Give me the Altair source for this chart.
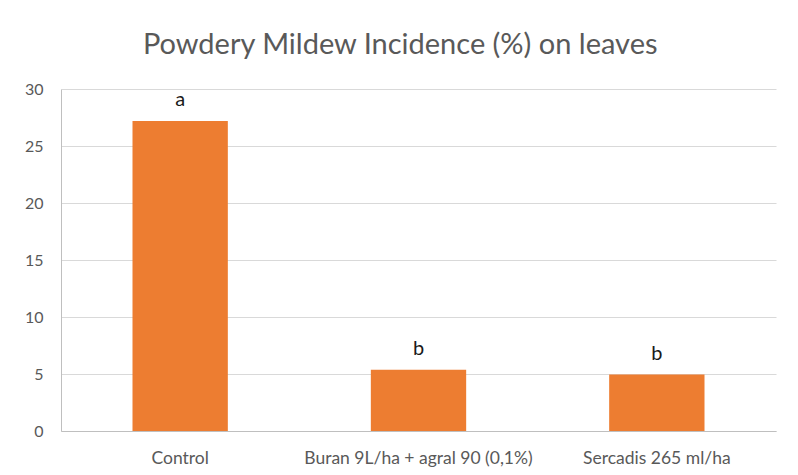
import altair as alt
import pandas as pd

treatments = ["Control", "Buran 9L/ha + agral 90 (0,1%)", "Sercadis 265 ml/ha"]
incidence = [27.2, 5.37, 4.95]
letters = ["a", "b", "b"]

df = pd.DataFrame({"treatment": treatments, "incidence": incidence, "letter": letters})

FONT = "Lato"
GREY = "#595959"

x = alt.X("treatment:N", sort=treatments, title=None,
          scale=alt.Scale(paddingInner=0.6, paddingOuter=0.3),
          axis=alt.Axis(labelAngle=0, labelFontSize=17.5, labelColor=GREY, labelFont=FONT,
                        labelPadding=18, labelLimit=0, ticks=False, domainColor="#BFBFBF",
                        domainWidth=1.2, grid=False))
y = alt.Y("incidence:Q", title=None,
          scale=alt.Scale(domain=[0, 30], nice=False),
          axis=alt.Axis(values=[0, 5, 10, 15, 20, 25, 30], labelFontSize=16, labelColor=GREY,
                        labelFont=FONT, labelPadding=18, ticks=False, domainColor="#BFBFBF",
                        gridColor="#D9D9D9", gridWidth=1.2))

bars = alt.Chart(df).mark_bar(color="#ED7D31").encode(x=x, y=y)
text = alt.Chart(df).mark_text(font=FONT, fontSize=20, color="#1a1a1a", dy=-15,
                               baseline="alphabetic").encode(
    x=alt.X("treatment:N", sort=treatments), y="incidence:Q", text="letter:N")

chart = (bars + text).properties(
    width=715, height=342,
    background="white",
    title=alt.TitleParams("Powdery Mildew Incidence (%) on leaves", fontSize=29, color=GREY,
                          font=FONT, fontWeight="normal", anchor="middle", frame="bounds",
                          offset=21),
    autosize=alt.AutoSizeParams(type="none"),
    padding={"left": 53, "top": 81, "right": 10, "bottom": 40},
).configure_view(strokeWidth=0)

chart.save("out.html", embed_options={"renderer": "svg", "actions": False})
